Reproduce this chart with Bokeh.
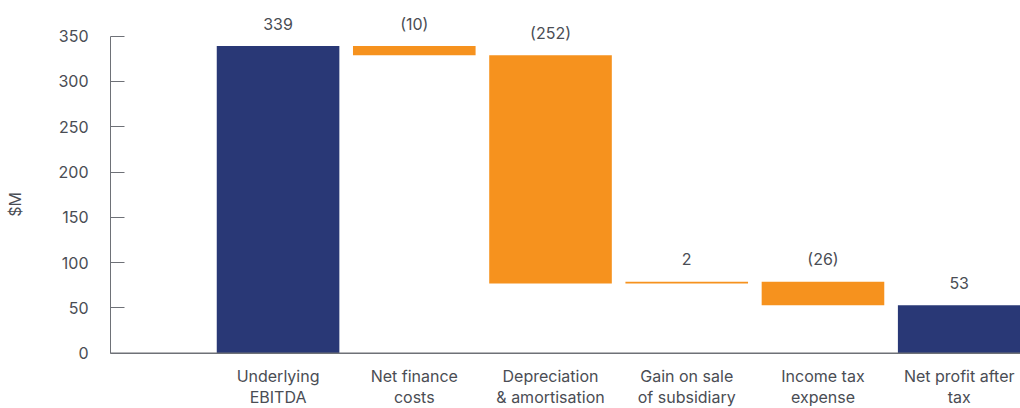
from bokeh.plotting import figure
from bokeh.models import Span, FixedTicker, ColumnDataSource
from bokeh.core.properties import value
from bokeh.embed import file_html
from bokeh.resources import INLINE

categories = ["Underlying\nEBITDA", "Net finance\ncosts", "Depreciation\n& amortisation",
              "Gain on sale\nof subsidiary", "Income tax\nexpense", "Net profit after\ntax"]
amounts = [339, -10, -252, 2, -26, 53]
kinds = ["total", "step", "step", "step", "step", "total"]
value_labels = ["339", "(10)", "(252)", "2", "(26)", "53"]
y_ticks = [0, 50, 100, 150, 200, 250, 300, 350]
y_title = "$M"

NAVY = "#293876"
ORANGE = "#f6921e"
TEXT = "#4a4d54"
AXIS = "#6e7177"
FONT = "Inter"

# waterfall geometry from the data
bottoms, tops = [], []
running = 0
for a, k in zip(amounts, kinds):
    if k == "total":
        bottoms.append(0)
        tops.append(a)
        running = a
    else:
        start = running
        running = running + a
        bottoms.append(min(start, running))
        tops.append(max(start, running))

xs = list(range(1, len(categories) + 1))
colors = [NAVY if k == "total" else ORANGE for k in kinds]

PX = 350 / 317.0  # data units per pixel

p = figure(width=1020, height=408, output_backend="svg", toolbar_location=None,
           x_range=(-0.23, 6.45), y_range=(-61.0, 389.3),
           min_border_left=110, min_border_right=0, min_border_top=0, min_border_bottom=0)
p.outline_line_color = None
p.xgrid.visible = False
p.ygrid.visible = False
p.xaxis.visible = False

src = ColumnDataSource(dict(x=xs, bottom=bottoms, top=tops, color=colors,
                            label=value_labels,
                            ly=[t + 22.5 * PX for t in tops]))
p.vbar(x="x", width=0.9, bottom="bottom", top="top", fill_color="color",
       line_color=None, source=src)

p.text(x="x", y="ly", text="label", source=src, text_align="center",
       text_baseline="middle", text_font=value(FONT), text_font_size="16px",
       text_color=TEXT)

line1 = [c.split("\n")[0] for c in categories]
line2 = [c.split("\n")[1] for c in categories]
p.text(x=xs, y=[-24.8] * len(xs), text=line1, text_align="center",
       text_baseline="middle", text_font=value(FONT), text_font_size="16px",
       text_color=TEXT)
p.text(x=xs, y=[-47.8] * len(xs), text=line2, text_align="center",
       text_baseline="middle", text_font=value(FONT), text_font_size="16px",
       text_color=TEXT)

p.add_layout(Span(location=0, dimension="width", line_color=AXIS, line_width=1.5))

ax = p.yaxis[0]
ax.ticker = FixedTicker(ticks=y_ticks)
ax.bounds = (0, 350)
ax.axis_line_color = AXIS
ax.major_tick_line_color = AXIS
ax.major_tick_in = 14
ax.major_tick_out = 0
ax.minor_tick_line_color = None
ax.major_label_standoff = 22
ax.major_label_text_font = FONT
ax.major_label_text_font_size = "16px"
ax.major_label_text_color = TEXT
ax.axis_label = y_title
ax.axis_label_text_font = FONT
ax.axis_label_text_font_size = "16px"
ax.axis_label_text_font_style = "normal"
ax.axis_label_text_color = TEXT
ax.axis_label_standoff = 30

open("out.html", "w").write(file_html(p, INLINE))
